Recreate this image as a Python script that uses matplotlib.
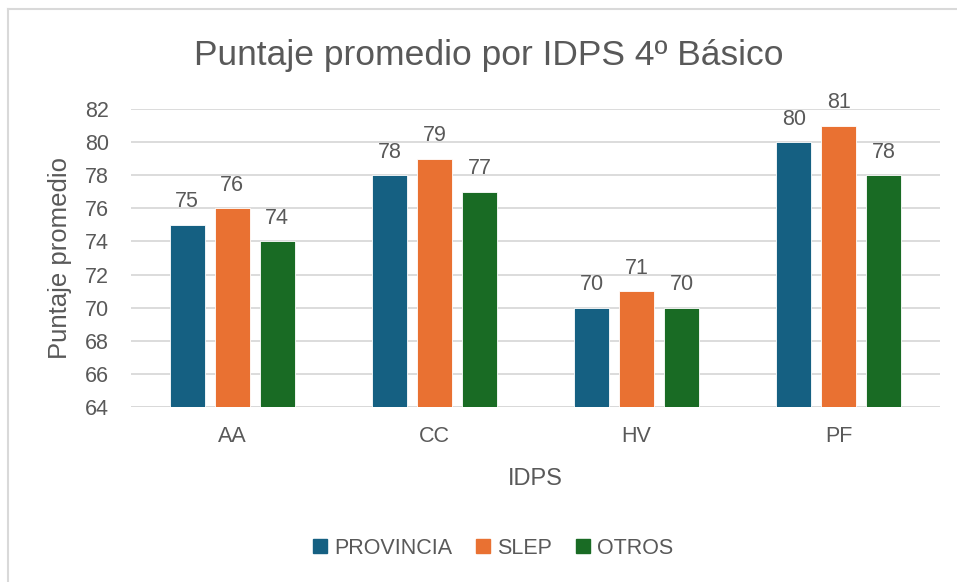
import matplotlib.pyplot as plt
import numpy as np
from matplotlib.lines import Line2D
from matplotlib.patches import Patch

categories = ['AA', 'CC', 'HV', 'PF']
series_names = ['PROVINCIA', 'SLEP', 'OTROS']
provincia = [75, 78, 70, 80]
slep = [76, 79, 71, 81]
otros = [74, 77, 70, 78]
yticks = [64, 66, 68, 70, 72, 74, 76, 78, 80, 82]

colors = ['#156082', '#E97132', '#196B24']
text_col = '#595959'

plt.rcParams['font.family'] = ['Liberation Sans', 'DejaVu Sans']

fig = plt.figure(figsize=(9.57, 5.82), dpi=100)
ax = fig.add_axes([131 / 957, 1 - 407 / 582, 809 / 957, 298 / 582])

x = np.arange(len(categories))
w = 0.173
step = 0.2225
for i, (vals, name) in enumerate(zip([provincia, slep, otros], series_names)):
    pos = x + (i - 1) * step
    ax.bar(pos, np.array(vals) - 64, width=w, bottom=64, color=colors[i],
           edgecolor='white', linewidth=0.6, label=name, zorder=3)
    for p, v in zip(pos, vals):
        ax.annotate(str(v), (p, v), xytext=(0, 9), textcoords='offset points',
                    ha='center', va='bottom', fontsize=15.5, color=text_col)

ax.set_xlim(-0.5, 3.5)
ax.set_ylim(64, 82)
ax.set_yticks(yticks)
ax.set_xticks(x)
ax.set_xticklabels(categories)
ax.tick_params(axis='y', length=0, labelsize=15.5, colors=text_col, pad=16)
ax.tick_params(axis='x', length=0, labelsize=15.5, colors=text_col, pad=14)
ax.yaxis.grid(True, color='#D9D9D9', linewidth=1.3, zorder=0)
for s in ax.spines.values():
    s.set_visible(False)
ax.axhline(64, color='#D9D9D9', linewidth=1.3, zorder=1)

ax.set_ylabel('Puntaje promedio', fontsize=18.5, color=text_col, labelpad=9)
ax.set_xlabel('IDPS', fontsize=17, color=text_col, labelpad=15)

fig.text(489 / 957, 1 - 55 / 582, 'Puntaje promedio por IDPS 4º Básico',
         ha='center', va='center', fontsize=25.5, color=text_col)

handles = [Patch(color=c, label=n) for c, n in zip(colors, series_names)]
fig.legend(handles=handles, loc='center', bbox_to_anchor=(493 / 957, 1 - 548 / 582),
           ncol=3, frameon=False, fontsize=15.5, handlelength=0.65, handleheight=0.65,
           columnspacing=1.1, handletextpad=0.33, labelcolor=text_col)

# outer chart border (left and top)
fig.add_artist(Line2D([8 / 957, 8 / 957], [0, 1 - 9 / 582], color='#D9D9D9', linewidth=1.5))
fig.add_artist(Line2D([8 / 957, 1], [1 - 9 / 582, 1 - 9 / 582], color='#D9D9D9', linewidth=1.5))

fig.savefig('out.png', dpi=100)
